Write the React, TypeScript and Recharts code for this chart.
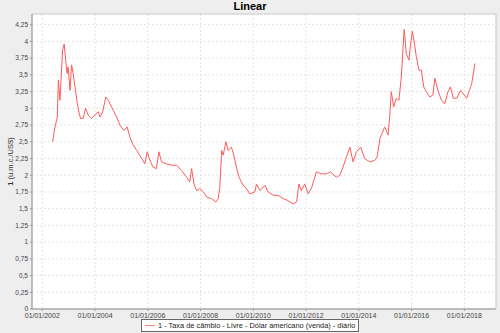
import { LineChart, Line, XAxis, YAxis, CartesianGrid, ReferenceArea } from "recharts";

const years = [
  2002.39, 2002.48, 2002.57, 2002.61, 2002.67, 2002.77, 2002.83, 2002.9, 2002.94, 2002.98,
  2003.05, 2003.11, 2003.17, 2003.24, 2003.33, 2003.4, 2003.45, 2003.55, 2003.64, 2003.74,
  2003.87, 2004.0, 2004.12, 2004.19, 2004.29, 2004.41, 2004.5, 2004.59, 2004.69, 2004.82,
  2004.94, 2005.09, 2005.22, 2005.32, 2005.45, 2005.58, 2005.77, 2005.89, 2005.98, 2006.08,
  2006.2, 2006.33, 2006.42, 2006.52, 2006.71, 2006.9, 2007.09, 2007.28, 2007.47, 2007.59,
  2007.66, 2007.75, 2007.85, 2007.97, 2008.1, 2008.25, 2008.42, 2008.58, 2008.67, 2008.73,
  2008.8, 2008.86, 2008.96, 2009.05, 2009.17, 2009.26, 2009.36, 2009.46, 2009.61, 2009.74,
  2009.87, 2010.06, 2010.12, 2010.25, 2010.44, 2010.56, 2010.75, 2010.94, 2011.13, 2011.32,
  2011.51, 2011.64, 2011.73, 2011.82, 2011.95, 2012.08, 2012.2, 2012.29, 2012.39, 2012.58,
  2012.77, 2012.92, 2013.15, 2013.28, 2013.4, 2013.53, 2013.66, 2013.78, 2013.91, 2014.07,
  2014.22, 2014.41, 2014.6, 2014.69, 2014.77, 2014.8, 2014.98, 2015.11, 2015.17, 2015.23,
  2015.32, 2015.42, 2015.52, 2015.61, 2015.67, 2015.72, 2015.8, 2015.9, 2015.95, 2016.03,
  2016.09, 2016.18, 2016.28, 2016.37, 2016.46, 2016.56, 2016.69, 2016.81, 2016.88, 2017.0,
  2017.13, 2017.26, 2017.38, 2017.47, 2017.58, 2017.71, 2017.86, 2017.96, 2018.09, 2018.19,
  2018.28, 2018.4,
];

const rates = [
  2.5, 2.72, 2.87, 3.42, 3.12, 3.87, 3.96, 3.67, 3.52, 3.62,
  3.27, 3.65, 3.52, 3.32, 3.07, 2.92, 2.85, 2.85, 3.0, 2.9,
  2.85, 2.9, 2.95, 2.87, 2.95, 3.17, 3.12, 3.05, 2.97, 2.87,
  2.75, 2.67, 2.72, 2.57, 2.45, 2.37, 2.25, 2.17, 2.35, 2.22,
  2.12, 2.1, 2.35, 2.2, 2.17, 2.15, 2.15, 2.07, 1.97, 1.9,
  2.1, 1.87, 1.77, 1.8, 1.75, 1.67, 1.65, 1.6, 1.65, 1.82,
  2.37, 2.3, 2.5, 2.37, 2.42, 2.3, 2.12, 1.97, 1.85, 1.8,
  1.72, 1.75, 1.87, 1.77, 1.85, 1.75, 1.7, 1.7, 1.65, 1.62,
  1.57, 1.6, 1.87, 1.77, 1.87, 1.72, 1.8, 1.92, 2.05, 2.02,
  2.02, 2.05, 1.97, 2.0, 2.12, 2.27, 2.42, 2.2, 2.35, 2.42,
  2.25, 2.2, 2.22, 2.27, 2.47, 2.55, 2.72, 2.6, 2.87, 3.25,
  3.02, 3.15, 3.12, 3.47, 3.87, 4.18, 3.82, 3.72, 3.92, 4.15,
  4.02, 3.77, 3.57, 3.57, 3.32, 3.25, 3.17, 3.2, 3.45, 3.27,
  3.12, 3.07, 3.25, 3.32, 3.15, 3.15, 3.27, 3.22, 3.15, 3.27,
  3.37, 3.67,
];

const xTicks = [2002, 2004, 2006, 2008, 2010, 2012, 2014, 2016, 2018];
const yTicks = [0, 0.25, 0.5, 0.75, 1, 1.25, 1.5, 1.75, 2, 2.25, 2.5, 2.75, 3, 3.25, 3.5, 3.75, 4, 4.25];

const seriesName = "1 - Taxa de câmbio - Livre - Dólar americano (venda) - diário";

const data = years.map((t, i) => ({ t, v: rates[i] }));

const X_MIN = 2001.61;
const X_MAX = 2019.2;
const Y_MAX = 4.41;

const font = "'Liberation Sans', Arial, sans-serif";

function YLabel(props: any) {
  const vb = props.viewBox || {};
  const cx = 10;
  const cy = vb.y + vb.height / 2;
  return (
    <text
      x={cx}
      y={cy}
      transform={`rotate(-90, ${cx}, ${cy})`}
      textAnchor="middle"
      dominantBaseline="central"
      fontSize={7.5}
      fontFamily={font}
      fill="#333"
    >
      <tspan fontWeight="bold">1</tspan>
      <tspan> (u.m.c./US$)</tspan>
    </text>
  );
}

export default function App() {
  return (
    <div
      style={{
        position: "fixed",
        left: 0,
        top: 0,
        width: 500,
        height: 333,
        background: "#eeeeee",
        fontFamily: font,
      }}
    >
      <div
        style={{
          position: "absolute",
          top: 0,
          left: 0,
          width: 500,
          textAlign: "center",
          fontSize: 11,
          fontWeight: "bold",
          lineHeight: "12px",
          color: "#000",
        }}
      >
        Linear
      </div>
      <LineChart
        width={500}
        height={333}
        data={data}
        margin={{ top: 14, right: 4, left: 0, bottom: 12 }}
      >
        <CartesianGrid stroke="#e4e4e4" strokeDasharray="2 2" fill="#ffffff" />
        <ReferenceArea
          x1={X_MIN}
          x2={X_MAX}
          y1={0}
          y2={Y_MAX}
          fill="none"
          stroke="#cccccc"
          strokeWidth={1}
          ifOverflow="extendDomain"
        />
        <XAxis
          dataKey="t"
          type="number"
          domain={[X_MIN, X_MAX]}
          ticks={xTicks}
          tickFormatter={(v: number) => `01/01/${v}`}
          allowDataOverflow
          height={12}
          tickSize={2}
          tick={{ fontSize: 7, fill: "#444", fontFamily: font }}
          stroke="#999"
          interval={0}
        />
        <YAxis
          type="number"
          domain={[0, Y_MAX]}
          ticks={yTicks}
          tickFormatter={(v: number) => String(v).replace(".", ",")}
          allowDataOverflow
          width={32}
          tickSize={2}
          tick={{ fontSize: 6.5, fill: "#444", fontFamily: font }}
          stroke="#999"
          interval={0}
          label={<YLabel />}
        />
        <Line
          type="linear"
          dataKey="v"
          name={seriesName}
          stroke="#ff5a5a"
          strokeWidth={1}
          dot={false}
          isAnimationActive={false}
        />
      </LineChart>
      <div
        style={{
          position: "absolute",
          left: 141,
          top: 319,
          width: 216,
          height: 11,
          border: "1px solid #666",
          background: "#ffffff",
          display: "flex",
          alignItems: "center",
          fontSize: 7.4,
          color: "#222",
          whiteSpace: "nowrap",
          overflow: "hidden",
        }}
      >
        <span
          style={{
            display: "inline-block",
            width: 10,
            height: 1,
            background: "#ff8080",
            margin: "0 3px 0 3px",
          }}
        />
        {seriesName}
      </div>
    </div>
  );
}
